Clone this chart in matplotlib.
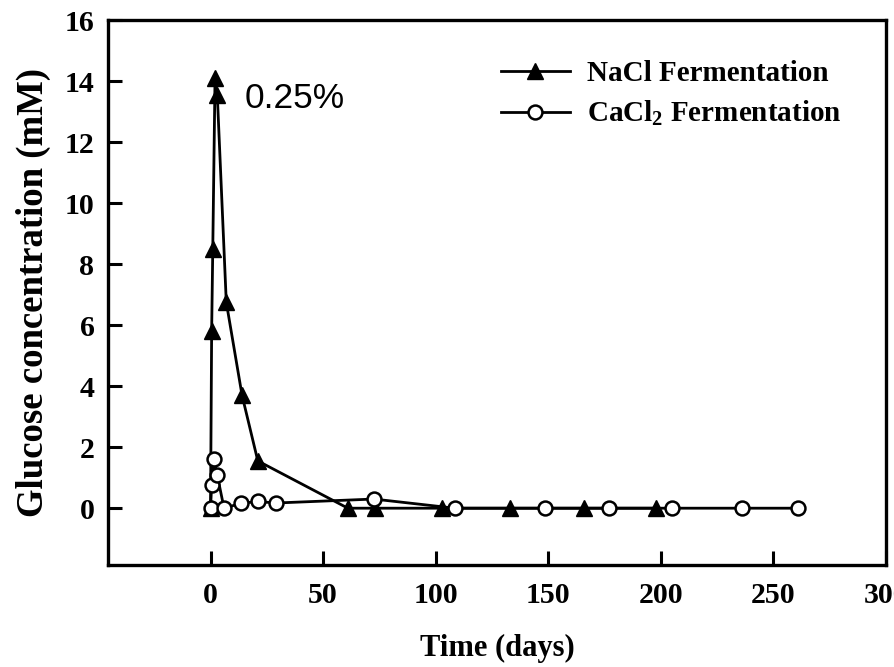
import matplotlib
matplotlib.use('Agg')
import matplotlib.pyplot as plt

plt.rcParams['font.family'] = 'Liberation Serif'
plt.rcParams['font.weight'] = 'bold'
plt.rcParams['mathtext.fontset'] = 'custom'
plt.rcParams['mathtext.rm'] = 'Liberation Serif:bold'
plt.rcParams['mathtext.default'] = 'rm'

# NaCl fermentation (triangles)
nacl_t = [0, 0.5, 1, 2, 3, 7, 14, 21, 61, 73, 103, 133, 166, 198]
nacl_glc = [0, 5.8, 8.5, 14.1, 13.55, 6.75, 3.7, 1.55, 0, 0, 0, 0, 0, 0]

# CaCl2 fermentation (open circles)
cacl_t = [0, 0.5, 1.5, 3, 6, 13.5, 21, 29, 72.5, 108.5, 148.5, 177, 205, 236, 261]
cacl_glc = [0, 0.75, 1.62, 1.08, 0, 0.16, 0.22, 0.17, 0.3, 0, 0, 0, 0, 0, 0]

xticks = [0, 50, 100, 150, 200, 250, 300]
yticks = [0, 2, 4, 6, 8, 10, 12, 14, 16]

fig = plt.figure(figsize=(8.95, 6.67), dpi=100)
ax = fig.add_axes([0.121, 0.153, 0.869, 0.817])

ax.plot(nacl_t, nacl_glc, '-^', color='black', lw=2, ms=11,
        mfc='black', mec='black', label='NaCl Fermentation')
ax.plot(cacl_t, cacl_glc, '-o', color='black', lw=2, ms=10, mew=1.8,
        mfc='white', mec='black', label=r'CaCl$_2$ Fermentation')

ax.set_xlim(-45.4, 300)
ax.set_ylim(-1.86, 16)
ax.set_xticks(xticks)
ax.set_yticks(yticks)
for s in ax.spines.values():
    s.set_linewidth(2.4)
ax.tick_params(direction='in', length=10, width=2.2, labelsize=21.5,
               top=False, right=False)
ax.tick_params(axis='x', pad=12)
ax.tick_params(axis='y', pad=10)
for lab in ax.get_xticklabels() + ax.get_yticklabels():
    lab.set_fontweight('bold')

ax.set_xlabel('Time (days)', fontsize=22, fontweight='bold', labelpad=18)
ax.set_ylabel('Glucose concentration (mM)', fontsize=26.5, fontweight='bold',
              labelpad=10)

ax.text(15.3, 13.1, '0.25%', fontsize=25.5, family='Liberation Sans',
        fontweight='normal', ha='left', va='baseline')

ax.legend(loc='upper left', bbox_to_anchor=(0.505, 0.927), frameon=False,
          fontsize=21, handlelength=2.35, borderpad=0, labelspacing=0.42,
          handletextpad=0.58, borderaxespad=0)

fig.savefig('out.png', dpi=100)
